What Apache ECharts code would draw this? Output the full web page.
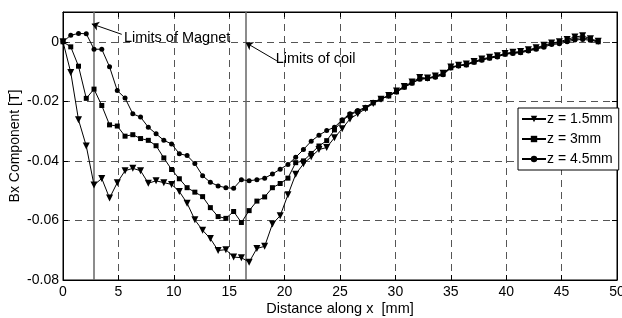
<!DOCTYPE html>
<html>
<head>
<meta charset="utf-8">
<script src="https://cdn.jsdelivr.net/npm/echarts@6/dist/echarts.min.js"></script>
<style>
  html, body { margin: 0; padding: 0; background: #fff; }
  #chart { width: 622px; height: 318px; }
</style>
</head>
<body>
<div id="chart"></div>
<script>
// x positions along the magnet [mm], step 0.7
const xs = [
  0, 0.7, 1.4, 2.1, 2.8, 3.5, 4.2, 4.9, 5.6, 6.3,
  7, 7.7, 8.4, 9.1, 9.8, 10.5, 11.2, 11.9, 12.6, 13.3,
  14, 14.7, 15.4, 16.1, 16.8, 17.5, 18.2, 18.9, 19.6, 20.3,
  21, 21.7, 22.4, 23.1, 23.8, 24.5, 25.2, 25.9, 26.6, 27.3,
  28, 28.7, 29.4, 30.1, 30.8, 31.5, 32.2, 32.9, 33.6, 34.3,
  35, 35.7, 36.4, 37.1, 37.8, 38.5, 39.2, 39.9, 40.6, 41.3,
  42, 42.7, 43.4, 44.1, 44.8, 45.5, 46.2, 46.9, 47.6, 48.3
];

// Bx [T] for z = 1.5mm
const bxZ15 = [
  0, -0.0103, -0.0262, -0.035, -0.0481, -0.0459, -0.0525, -0.0473, -0.0433, -0.0425,
  -0.0433, -0.0475, -0.0467, -0.0473, -0.0479, -0.0503, -0.0542, -0.0598, -0.0633, -0.0661,
  -0.0701, -0.0698, -0.0723, -0.0725, -0.074, -0.0694, -0.0687, -0.0612, -0.0584, -0.0514,
  -0.0445, -0.041, -0.0386, -0.0362, -0.0355, -0.0322, -0.0292, -0.0259, -0.0242, -0.0225,
  -0.0207, -0.0193, -0.018, -0.0165, -0.015, -0.0135, -0.012, -0.0122, -0.0115, -0.0106,
  -0.0085, -0.0079, -0.0075, -0.0066, -0.0058, -0.0052, -0.0047, -0.0039, -0.0035, -0.0033,
  -0.0027, -0.002, -0.0012, -0.0004, 0, 0.0008, 0.0016, 0.002, 0.001, 0.0002
];

// Bx [T] for z = 3mm
const bxZ3 = [
  0, -0.0017, -0.0082, -0.019, -0.0159, -0.0214, -0.0279, -0.0283, -0.0317, -0.0312,
  -0.0325, -0.0331, -0.0349, -0.039, -0.0429, -0.046, -0.049, -0.0505, -0.052, -0.0557,
  -0.0587, -0.0593, -0.057, -0.0607, -0.0567, -0.0535, -0.0521, -0.049, -0.0476, -0.0458,
  -0.0406, -0.04, -0.0375, -0.035, -0.0332, -0.0296, -0.0265, -0.0245, -0.0234, -0.0223,
  -0.0205, -0.0192, -0.0182, -0.0168, -0.0152, -0.0138, -0.0124, -0.0123, -0.0117, -0.0109,
  -0.0087, -0.008, -0.0077, -0.0068, -0.006, -0.0054, -0.0049, -0.0041, -0.0037, -0.0035,
  -0.0029, -0.0023, -0.0015, -0.0006, -0.0003, 0.0004, 0.0011, 0.0014, 0.0007, 0
];

// Bx [T] for z = 4.5mm
const bxZ45 = [
  0, 0.0022, 0.0028, 0.0027, -0.0025, -0.0025, -0.0084, -0.0164, -0.0189, -0.0242,
  -0.0253, -0.0287, -0.0309, -0.0331, -0.0343, -0.0376, -0.0382, -0.0409, -0.045, -0.0472,
  -0.0484, -0.049, -0.0492, -0.0463, -0.0467, -0.0463, -0.0458, -0.0444, -0.0428, -0.0412,
  -0.0388, -0.0362, -0.0334, -0.0314, -0.0298, -0.0287, -0.0262, -0.0242, -0.0231, -0.022,
  -0.0203, -0.0191, -0.0181, -0.0169, -0.0153, -0.0139, -0.0126, -0.0124, -0.0119, -0.0111,
  -0.0088, -0.0081, -0.0078, -0.0069, -0.0062, -0.0055, -0.0051, -0.0042, -0.0039, -0.0037,
  -0.0031, -0.0025, -0.0018, -0.0009, -0.0007, 0, 0.0006, 0.0008, 0.0005, 0
];

const seriesNames = ['z = 1.5mm', 'z = 3mm', 'z = 4.5mm'];
const seriesSymbols = ['triangle', 'rect', 'circle'];

// vertical limit lines [mm]
const magnetLimit = 2.75;
const coilLimit = 16.5;

// annotations: [tip x, tip y], [tail x, tail y], text anchor
const notes = [
  { text: 'Limits of Magnet', tip: [2.6, 0.006], tail: [5.3, 0.0025], at: [5.5, 0.0012] },
  { text: 'Limits of coil', tip: [16.5, -0.0003], tail: [19.3, -0.0064], at: [19.2, -0.0059] }
];

const font = 'Liberation Sans, Arial, sans-serif';

function toPairs(ys) {
  return xs.map((x, i) => [x, ys[i]]);
}

var myChart = echarts.init(document.getElementById('chart'));

const lineSeries = [bxZ15, bxZ3, bxZ45].map((ys, i) => ({
  name: seriesNames[i],
  type: 'line',
  data: toPairs(ys),
  symbol: seriesSymbols[i],
  symbolSize: i === 0 ? 7 : 5,
  symbolRotate: i === 0 ? 180 : 0,
  showAllSymbol: true,
  itemStyle: { color: '#000' },
  lineStyle: { color: '#000', width: 1 },
  animation: false,
  z: 5
}));

const gridLine = { show: true, lineStyle: { color: '#555', type: [7, 5], width: 1 } };
const inTick = { inside: true, length: 5, lineStyle: { color: '#000' } };

var option = {
  animation: false,
  backgroundColor: '#fff',
  grid: {
    left: 63, right: 5, top: 12, bottom: 38,
    containLabel: false, outerBoundsMode: 'none',
    show: true, borderColor: '#000', borderWidth: 1
  },
  legend: {
    orient: 'vertical',
    left: 518,
    top: 108,
    data: seriesNames,
    backgroundColor: '#fff',
    borderColor: '#000',
    borderWidth: 1,
    borderRadius: 0,
    padding: [4, 6, 4, 3],
    itemGap: 6,
    itemWidth: 24,
    itemHeight: 8,
    textStyle: { fontFamily: font, fontSize: 14, color: '#000', padding: [0, 0, 0, -4] }
  },
  xAxis: [
    {
      type: 'value', min: 0, max: 50, interval: 5,
      name: 'Distance along x  [mm]', nameLocation: 'middle', nameGap: 21, nameMoveOverlap: false,
      nameTextStyle: { fontFamily: font, fontSize: 14.5, color: '#000' },
      axisLine: { onZero: false, lineStyle: { color: '#000' } },
      axisTick: inTick,
      axisLabel: { fontFamily: font, fontSize: 14, color: '#000', margin: 5 },
      splitLine: gridLine
    },
    {
      type: 'value', min: 0, max: 50, interval: 5, position: 'top',
      axisLine: { onZero: false, lineStyle: { color: '#000' } },
      axisTick: inTick,
      axisLabel: { show: false }, splitLine: { show: false }
    }
  ],
  yAxis: [
    {
      type: 'value', min: -0.08, max: 0.01, interval: 0.02,
      name: 'Bx Component [T]', nameLocation: 'middle', nameGap: 41, nameMoveOverlap: false,
      nameTextStyle: { fontFamily: font, fontSize: 14, color: '#000' },
      axisLine: { onZero: false, lineStyle: { color: '#000' } },
      axisTick: inTick,
      axisLabel: { fontFamily: font, fontSize: 14, color: '#000', margin: 4, showMaxLabel: false },
      splitLine: gridLine
    },
    {
      type: 'value', min: -0.08, max: 0.01, interval: 0.02, position: 'right',
      axisLine: { onZero: false, lineStyle: { color: '#000' } },
      axisTick: inTick,
      axisLabel: { show: false }, splitLine: { show: false }
    }
  ],
  series: lineSeries.concat([{
    // limit lines and the annotation arrows
    name: 'limits',
    type: 'line',
    data: [],
    silent: true,
    markLine: {
      silent: true,
      animation: false,
      symbol: ['none', 'none'],
      label: { show: false },
      data: [
        { xAxis: magnetLimit, lineStyle: { color: '#666', type: 'solid', width: 1.5 } },
        { xAxis: coilLimit, lineStyle: { color: '#666', type: 'solid', width: 1.5 } }
      ].concat(notes.map(n => [
        { coord: n.tail, symbol: 'none', lineStyle: { color: '#000', type: 'solid', width: 1 } },
        { coord: n.tip, symbol: 'arrow', symbolSize: 7 }
      ]))
    }
  }])
};

myChart.setOption(option);

// annotation texts placed from data coords
const texts = notes.map(n => {
  const p = myChart.convertToPixel({ gridIndex: 0 }, n.at);
  return {
    type: 'text', x: p[0], y: p[1], z: 10,
    style: { text: n.text, fontFamily: font, fontSize: 14.5, fill: '#000', align: 'left', verticalAlign: 'middle' }
  };
});
myChart.setOption({ graphic: texts });
</script>
</body>
</html>
